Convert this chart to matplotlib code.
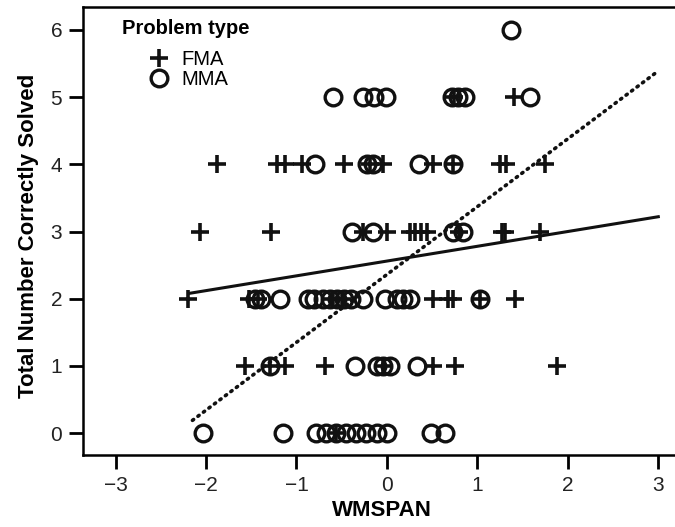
import matplotlib
matplotlib.use('Agg')
import matplotlib.pyplot as plt
import numpy as np

# Scatter of problem-solving scores against working memory span
plt.rcParams['font.family'] = ['Liberation Sans', 'DejaVu Sans']

# FMA problems (plus markers)
fma_x = [0.74, 1.40,
         -1.88, -1.22, -1.13, -0.94, -0.48, -0.19, -0.04, 0.51, 0.73, 1.25, 1.32, 1.75,
         -2.07, -1.28, -0.26, 0.0, 0.25, 0.31, 0.38, 0.44, 0.80, 1.27, 1.30, 1.69,
         -2.20, -1.52, -1.42, -0.60, -0.50, 0.51, 0.67, 0.73, 1.03, 1.42,
         -1.57, -1.29, -1.13, -0.69, -0.04, 0.51, 0.75, 1.88,
         -0.56]
fma_y = [5, 5,
         4, 4, 4, 4, 4, 4, 4, 4, 4, 4, 4, 4,
         3, 3, 3, 3, 3, 3, 3, 3, 3, 3, 3, 3,
         2, 2, 2, 2, 2, 2, 2, 2, 2, 2,
         1, 1, 1, 1, 1, 1, 1, 1,
         0]

# MMA problems (open circles)
mma_x = [1.37,
         -0.60, -0.27, -0.14, -0.01, 0.72, 0.79, 0.86, 1.58,
         -0.80, -0.22, -0.15, 0.35, 0.73,
         -0.39, -0.15, 0.73, 0.84,
         -1.46, -1.39, -1.18, -0.87, -0.81, -0.71, -0.63, -0.55, -0.48, -0.40,
         -0.26, -0.02, 0.11, 0.18, 0.25, 1.03,
         -1.29, -0.35, -0.11, -0.04, 0.03, 0.33,
         -2.03, -1.15, -0.78, -0.67, -0.56, -0.45, -0.34, -0.23, -0.11, 0.0, 0.49, 0.64]
mma_y = [6,
         5, 5, 5, 5, 5, 5, 5, 5,
         4, 4, 4, 4, 4,
         3, 3, 3, 3,
         2, 2, 2, 2, 2, 2, 2, 2, 2, 2,
         2, 2, 2, 2, 2, 2,
         1, 1, 1, 1, 1, 1,
         0, 0, 0, 0, 0, 0, 0, 0, 0, 0, 0, 0]

# fitted lines (intercept, slope) and the x range they span
fma_fit = (2.56, 0.22)
fma_range = [-2.18, 3.0]
mma_fit = (2.36, 1.01)
mma_range = [-2.15, 3.0]

fig = plt.figure(figsize=(6.75, 5.27), dpi=100)
ax = fig.add_axes([83 / 675, 72 / 527, 597 / 675, 448 / 527])

ax.plot(fma_x, fma_y, linestyle='none', marker='+', markersize=13.5,
        markeredgewidth=2.6, color='#111111', label='FMA')
ax.plot(mma_x, mma_y, linestyle='none', marker='o', markersize=12,
        markeredgewidth=2.4, markerfacecolor='none', color='#111111', label='MMA')

xs = np.array(fma_range)
ax.plot(xs, fma_fit[0] + fma_fit[1] * xs, color='#111111', linewidth=2.2)
xs = np.array(mma_range)
ax.plot(xs, mma_fit[0] + mma_fit[1] * xs, color='#111111', linewidth=2.6,
        linestyle=(0, (0.4, 1.5)), dash_capstyle='round')

ax.set_xlim(-3.36, 3.24)
ax.set_ylim(-0.327, 6.342)
ax.set_xticks(range(-3, 4))
ax.set_xticklabels(['\u22123', '\u22122', '\u22121', '0', '1', '2', '3'])
ax.set_yticks(range(0, 7))

for s in ax.spines.values():
    s.set_linewidth(1.8)
ax.tick_params(direction='out', length=10, width=2.0, pad=5, labelsize=15,
               labelcolor='#222222')

ax.set_xlabel('WMSPAN', fontsize=16, fontweight='bold')
ax.set_ylabel('Total Number Correctly Solved', fontsize=16, fontweight='bold')
ax.xaxis.label.set_va('center')
ax.yaxis.label.set_va('center')
ax.xaxis.set_label_coords(0.5, -0.123)
ax.yaxis.set_label_coords(-0.092, 0.49)

ax.text(0.065, 0.953, 'Problem type', transform=ax.transAxes, fontsize=14.5,
        fontweight='bold', va='center', ha='left')
ax.legend(loc='upper left', bbox_to_anchor=(0.1106, 0.905), frameon=False,
          fontsize=14.5, handlelength=1.0, handletextpad=0.6, labelspacing=0.05,
          borderpad=0, borderaxespad=0)

plt.savefig('out.png', dpi=100)
